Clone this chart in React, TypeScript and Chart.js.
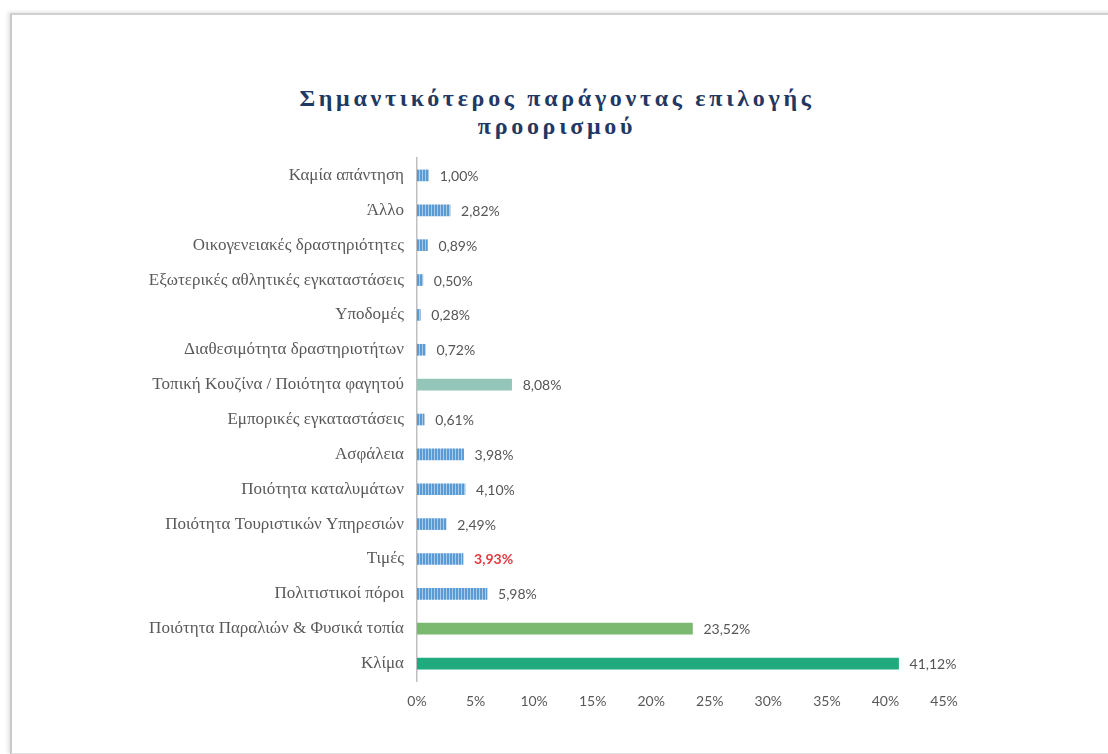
import React, { useEffect, useRef } from "react";
import { Chart, registerables } from "chart.js";

Chart.register(...registerables);

const TITLE_LINE_1 = "Σημαντικότερος παράγοντας επιλογής";
const TITLE_LINE_2 = "προορισμού";

const categories = [
  "Καμία απάντηση",
  "Άλλο",
  "Οικογενειακές δραστηριότητες",
  "Εξωτερικές αθλητικές εγκαταστάσεις",
  "Υποδομές",
  "Διαθεσιμότητα δραστηριοτήτων",
  "Τοπική Κουζίνα / Ποιότητα φαγητού",
  "Εμπορικές εγκαταστάσεις",
  "Ασφάλεια",
  "Ποιότητα καταλυμάτων",
  "Ποιότητα Τουριστικών Υπηρεσιών",
  "Τιμές",
  "Πολιτιστικοί πόροι",
  "Ποιότητα Παραλιών & Φυσικά τοπία",
  "Κλίμα",
];

const values = [1.0, 2.82, 0.89, 0.5, 0.28, 0.72, 8.08, 0.61, 3.98, 4.1, 2.49, 3.93, 5.98, 23.52, 41.12];

// bar style kinds: "stripe" = striped blue, others solid
const barKinds = [
  "stripe", "stripe", "stripe", "stripe", "stripe", "stripe", "teal",
  "stripe", "stripe", "stripe", "stripe", "stripe", "stripe", "green", "deep",
];

const highlightIndex = 11; // Τιμές value label in red

const xTicks = [0, 5, 10, 15, 20, 25, 30, 35, 40, 45];

function makeStripePattern(): CanvasPattern | string {
  const c = document.createElement("canvas");
  c.width = 3;
  c.height = 4;
  const g = c.getContext("2d");
  if (!g) return "#5B9BD5";
  g.fillStyle = "#5B9BD5";
  g.fillRect(0, 0, 3, 4);
  g.fillStyle = "#A9CBEA";
  g.fillRect(2, 0, 1, 4);
  const p = g.createPattern(c, "repeat");
  return p || "#5B9BD5";
}

const valueLabelPlugin = {
  id: "valueLabels",
  afterDatasetsDraw(chart: any) {
    const ctx = chart.ctx;
    const meta = chart.getDatasetMeta(0);
    ctx.save();
    ctx.textBaseline = "middle";
    ctx.textAlign = "left";
    meta.data.forEach((bar: any, i: number) => {
      const txt = values[i].toFixed(2).replace(".", ",") + "%";
      if (i === highlightIndex) {
        ctx.fillStyle = "#E8383D";
        ctx.font = "bold 14px Lato, sans-serif";
      } else {
        ctx.fillStyle = "#555555";
        ctx.font = "14px Lato, sans-serif";
      }
      ctx.fillText(txt, bar.x + 11, bar.y + 1);
    });
    ctx.restore();
  },
};

export default function App() {
  const ref = useRef<HTMLCanvasElement | null>(null);

  useEffect(() => {
    if (!ref.current) return;
    const stripe = makeStripePattern();
    const colors = barKinds.map((k) =>
      k === "stripe" ? stripe : k === "teal" ? "#93C5B9" : k === "green" ? "#7BB870" : "#20AA7D"
    );
    const chart = new Chart(ref.current, {
      type: "bar",
      data: {
        labels: categories,
        datasets: [
          {
            data: values,
            backgroundColor: colors as any,
            borderWidth: 0,
            barThickness: 11,
          },
        ],
      },
      plugins: [valueLabelPlugin],
      options: {
        indexAxis: "y",
        animation: false,
        responsive: false,
        maintainAspectRatio: false,
        layout: { padding: { left: 0, right: 164, top: 158, bottom: 40 } },
        plugins: {
          legend: { display: false },
          tooltip: { enabled: false },
          title: { display: false },
        },
        scales: {
          x: {
            min: 0,
            max: 45,
            afterBuildTicks: (s: any) => {
              s.ticks = xTicks.map((v) => ({ value: v }));
            },
            afterFit: (s: any) => {
              s.height = 754 - 681 - 40;
            },
            grid: { display: false, drawTicks: false },
            border: { display: false },
            ticks: {
              padding: 12,
              color: "#595959",
              font: { family: "Lato, sans-serif", size: 14 },
              callback: (v: any) => v + "%",
            },
          },
          y: {
            afterFit: (s: any) => {
              s.width = 417;
            },
            grid: { display: false, drawTicks: false },
            border: { display: true, color: "#BFBFBF", width: 1.5 },
            ticks: {
              padding: 13,
              color: "#595959",
              font: { family: "'Liberation Serif', serif", size: 17 },
            },
          },
        },
      },
    });
    return () => chart.destroy();
  }, []);

  return (
    <div style={{ position: "fixed", left: 0, top: 0, width: 1108, height: 754, background: "#ffffff", overflow: "hidden" }}>
      <div
        style={{
          position: "absolute",
          left: 10,
          top: 13,
          width: 1120,
          height: 738,
          borderLeft: "2px solid #C8C8C8",
          borderTop: "2px solid #D0D0D0",
          borderBottom: "2px solid #E0E0E0",
          boxShadow: "-2px -1px 4px rgba(0,0,0,0.12)",
          background: "#ffffff",
        }}
      />
      <div
        style={{
          position: "absolute",
          left: 0,
          top: 84,
          width: 1114,
          textAlign: "center",
          fontFamily: "'Liberation Serif', 'Times New Roman', serif",
          fontWeight: "bold",
          fontSize: 24,
          letterSpacing: "3.7px",
          lineHeight: "28px",
          color: "#1F3864",
        }}
      >
        <div>{TITLE_LINE_1}</div>
        <div>{TITLE_LINE_2}</div>
      </div>
      <canvas ref={ref} width={1108} height={754} style={{ position: "absolute", left: 0, top: 0 }} />
    </div>
  );
}
